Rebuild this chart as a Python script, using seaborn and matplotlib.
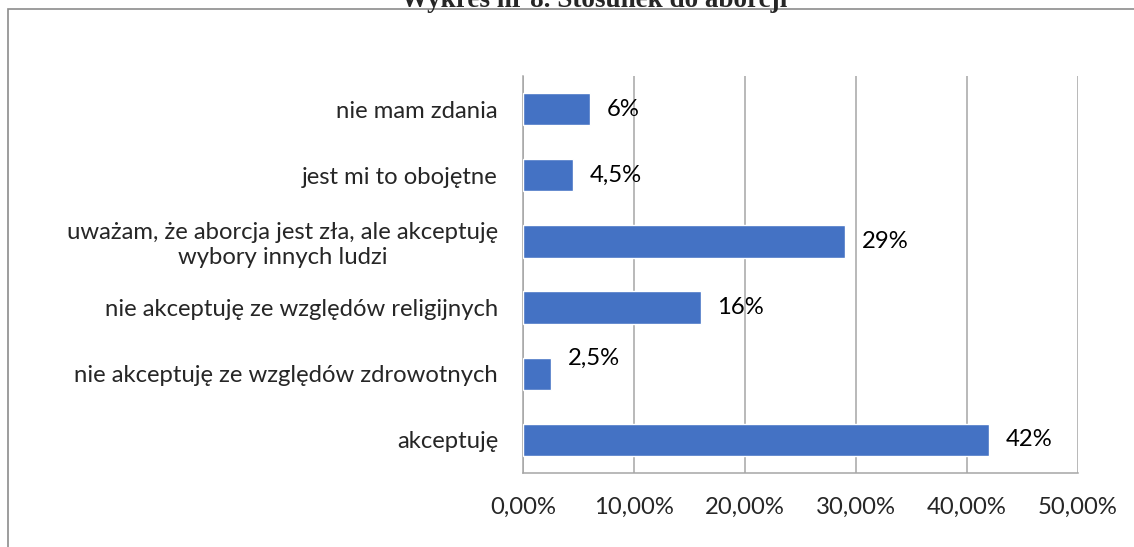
import matplotlib
matplotlib.use("Agg")
import matplotlib.pyplot as plt
import seaborn as sns
import pandas as pd
from matplotlib.patches import Rectangle

# dane
kategorie = [
    "nie mam zdania",
    "jest mi to obojętne",
    "uważam, że aborcja jest zła, ale akceptuję\nwybory innych ludzi",
    "nie akceptuję ze względów religijnych",
    "nie akceptuję ze względów zdrowotnych",
    "akceptuję",
]
wartosci = [6, 4.5, 29, 16, 2.5, 42]
etykiety = ["6%", "4,5%", "29%", "16%", "2,5%", "42%"]
przesuniecie_y = [0, 0, 0, 0, 11, 0]  # 2,5% podniesione nad słupek
ticki_x = [0, 10, 20, 30, 40, 50]
ticki_x_txt = ["0,00%", "10,00%", "20,00%", "30,00%", "40,00%", "50,00%"]

df = pd.DataFrame({"kategoria": kategorie, "procent": wartosci})

sns.set_style("white")
plt.rcParams["font.family"] = ["Lato", "DejaVu Sans"]
FS = 17.2

fig = plt.figure(figsize=(11.34, 5.47), dpi=100)
ax = fig.add_axes([523 / 1134, 1 - 473 / 547, 555 / 1134, 397 / 547])

sns.barplot(data=df, x="procent", y="kategoria", order=kategorie,
            color="#4472C4", saturation=1, width=0.49, ax=ax, zorder=3)

for i, (v, t, dy) in enumerate(zip(wartosci, etykiety, przesuniecie_y)):
    ax.annotate(t, (v, i), xytext=(12, dy), textcoords="offset points",
                va="center", ha="left", fontsize=FS, color="#000000")

ax.set_xlim(0, 50)
ax.set_ylim(5.5, -0.5)
ax.set_xticks(ticki_x)
ax.set_xticklabels(ticki_x_txt, fontsize=FS)
ax.set_xlabel("")
ax.set_ylabel("")

# ticki osi Y na granicach kategorii
ax.set_yticks([i - 0.5 for i in range(7)], minor=False)
ax.set_yticklabels([])
ax.set_yticks(range(6), minor=True)
ax.set_yticklabels(kategorie, minor=True, fontsize=FS)
for lbl in ax.get_yticklabels(minor=True):
    lbl.set_multialignment("center")
ax.tick_params(axis="y", which="minor", length=0, pad=18)
ax.tick_params(axis="y", which="major", length=5.8, width=1, color="#a6a6a6",
               direction="out")
ax.tick_params(axis="x", length=6.5, width=1, color="#a6a6a6",
               direction="out", pad=11)

ax.grid(axis="x", color="#a6a6a6", lw=1.1, zorder=0)
ax.grid(axis="y", visible=False)
for s in ["top", "right"]:
    ax.spines[s].set_visible(False)
for s in ["left", "bottom"]:
    ax.spines[s].set_color("#a6a6a6")
    ax.spines[s].set_linewidth(1.1)

# ramka obszaru wykresu (przycięta)
fig.patches.append(Rectangle((8 / 1134, -0.1), 2, 1 - 9 / 547 + 0.1,
                             transform=fig.transFigure, fill=False,
                             edgecolor="#8c8c8c", lw=1.2))

# tytuł (częściowo ucięty u góry, jak w oryginale)
fig.text(594 / 1134, 1 - 7 / 547, "Wykres nr 8. Stosunek do aborcji",
         ha="center", va="baseline", fontsize=19.5, fontweight="bold",
         family="Liberation Serif")

fig.savefig("out.png", dpi=100)
